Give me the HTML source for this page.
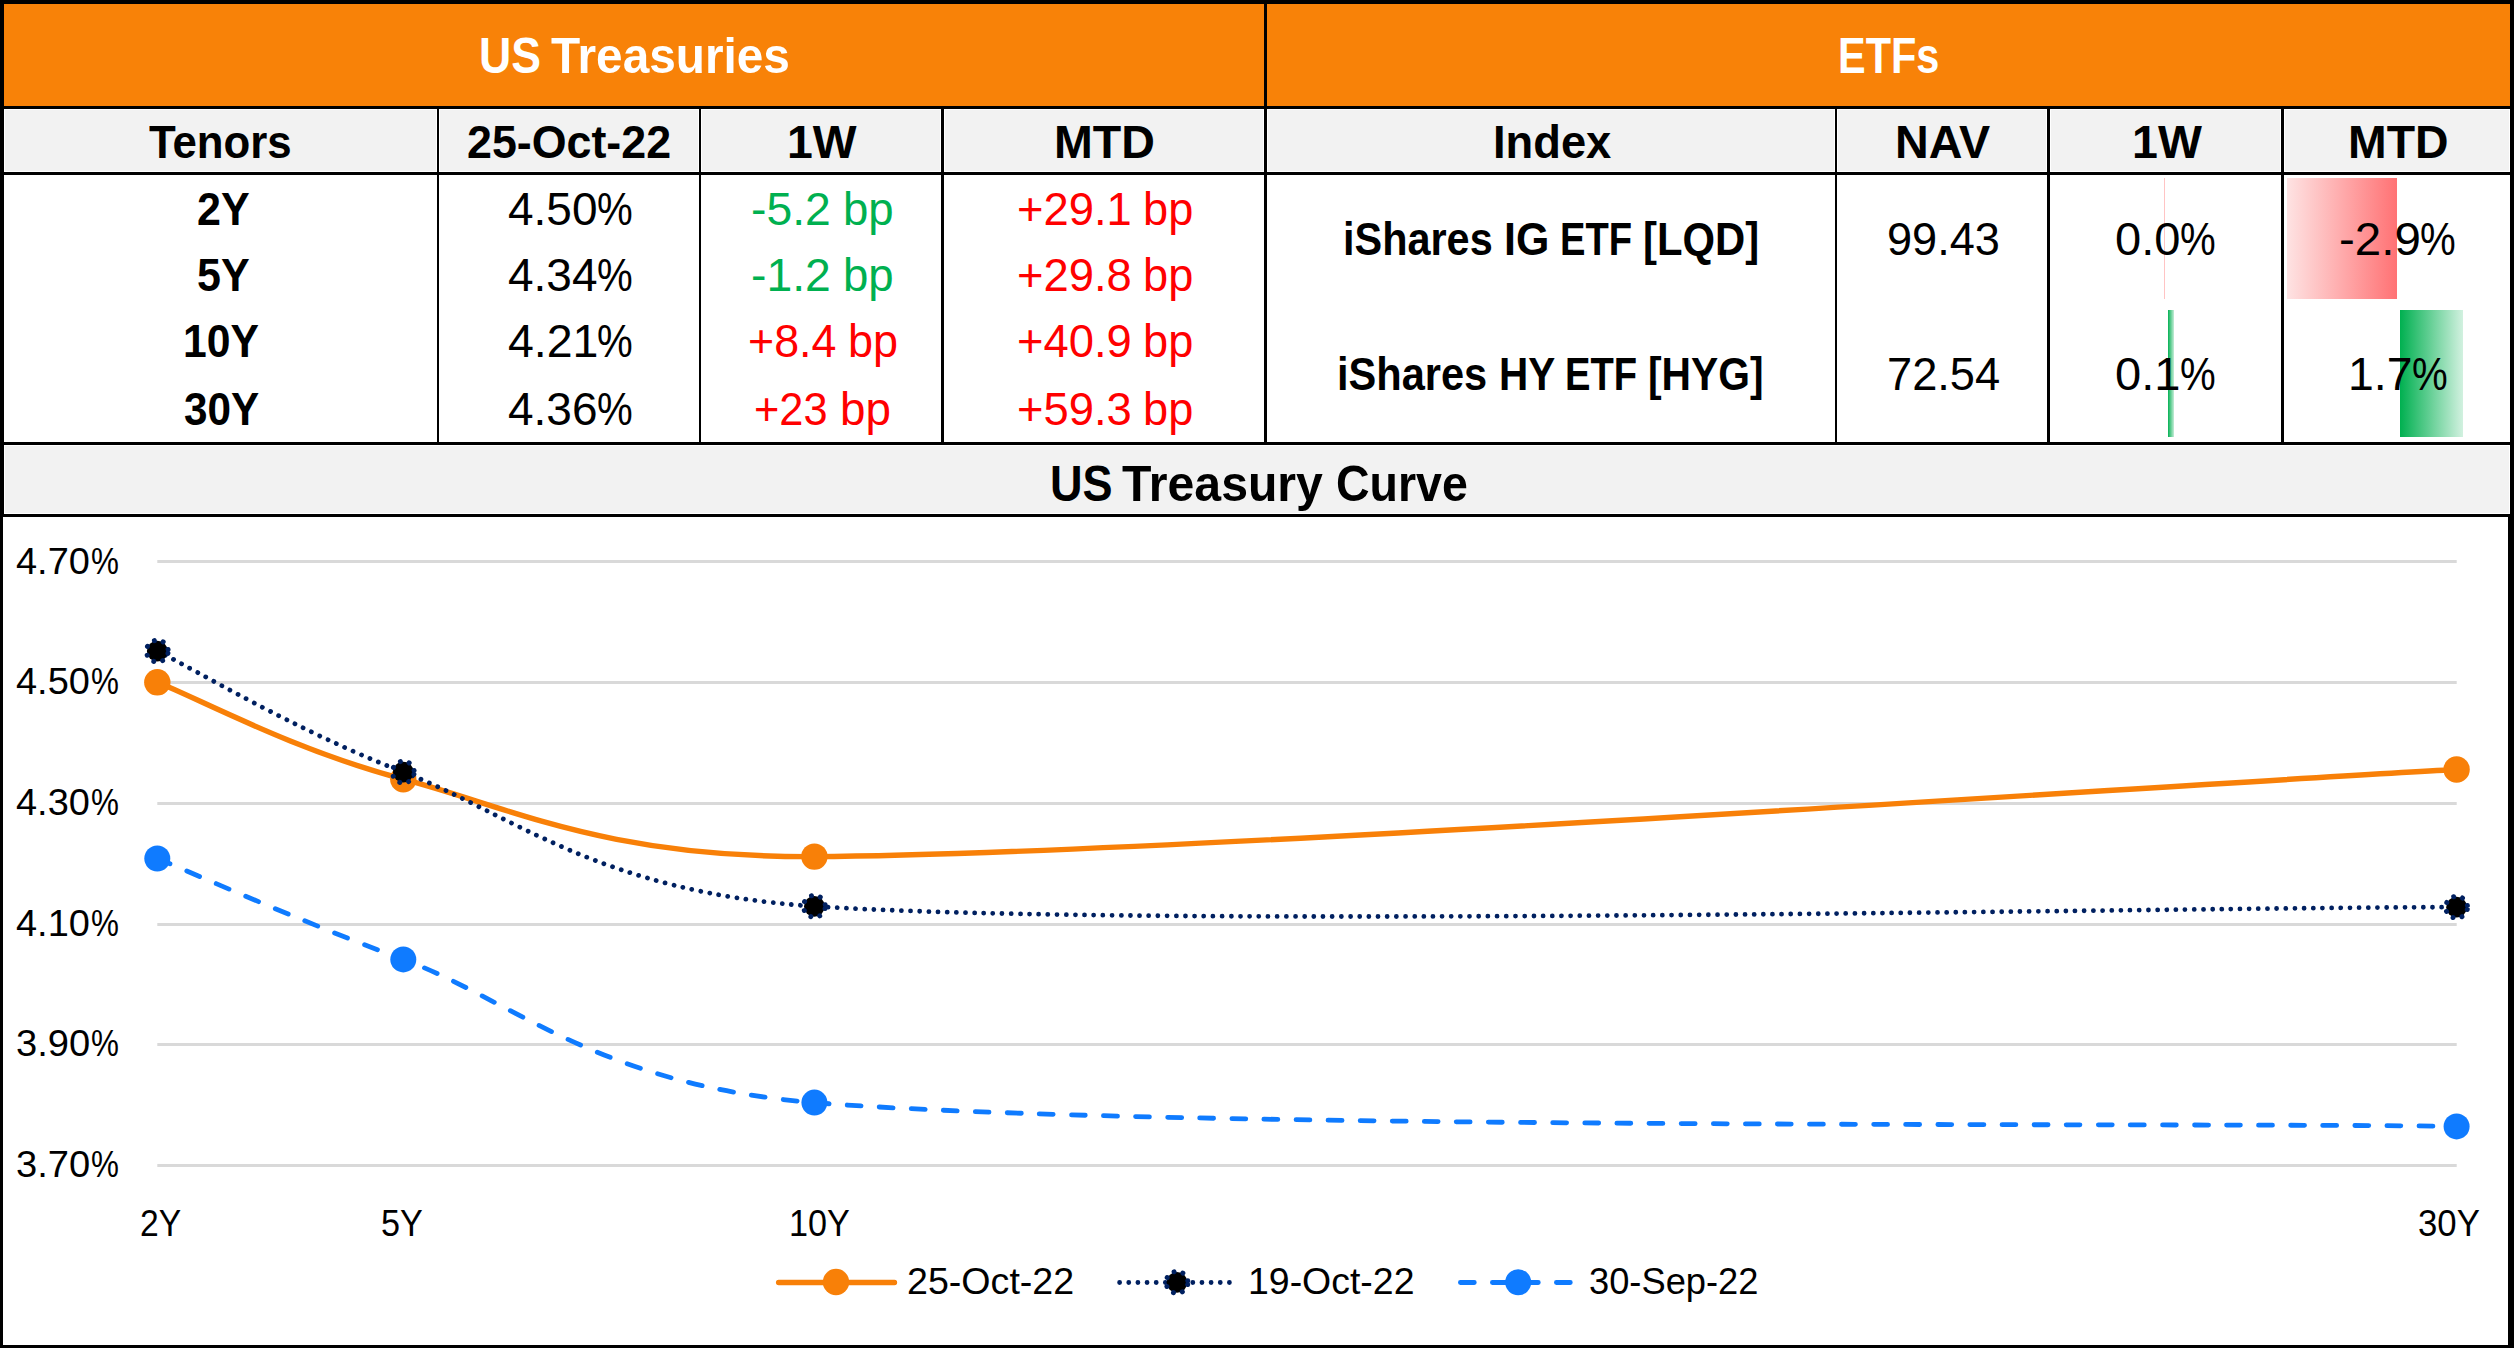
<!DOCTYPE html>
<html lang="en"><head><meta charset="utf-8"><title>US Treasuries and ETFs</title>
<style>
html,body{margin:0;padding:0;background:#fff}
body{width:2514px;height:1348px;position:relative;overflow:hidden;font-family:"Liberation Sans",sans-serif}
.r{position:absolute}
.chart{position:absolute;left:0;top:0}
.t{position:absolute;line-height:1;white-space:pre;transform-origin:0 0;font-weight:400}
</style></head>
<body>
<main>
<section aria-label="US Treasuries and ETFs table">
<div class="r" style="left:0px;top:0px;width:2514px;height:109px;background:#F88208"></div>
<div class="r" style="left:5px;top:110px;width:431px;height:61px;background:#F2F2F2"></div>
<div class="r" style="left:440px;top:110px;width:258px;height:61px;background:#F2F2F2"></div>
<div class="r" style="left:702px;top:110px;width:238px;height:61px;background:#F2F2F2"></div>
<div class="r" style="left:945px;top:110px;width:318px;height:61px;background:#F2F2F2"></div>
<div class="r" style="left:1268px;top:110px;width:566px;height:61px;background:#F2F2F2"></div>
<div class="r" style="left:1838px;top:110px;width:208px;height:61px;background:#F2F2F2"></div>
<div class="r" style="left:2051px;top:110px;width:229px;height:61px;background:#F2F2F2"></div>
<div class="r" style="left:2285px;top:110px;width:224px;height:61px;background:#F2F2F2"></div>
<div class="r" style="left:5px;top:446px;width:2504px;height:67px;background:#F2F2F2"></div>
<div class="r" style="left:2287px;top:178px;width:110px;height:121px;background:linear-gradient(90deg,#FEE3E3,#FF7274)"></div>
<div class="r" style="left:2400px;top:310px;width:63px;height:127px;background:linear-gradient(90deg,#00B050,#D2F1E0)"></div>
<div class="r" style="left:2164px;top:178px;width:1px;height:121px;background:#FFC4C4"></div>
<div class="r" style="left:2168px;top:310px;width:6px;height:127px;background:linear-gradient(90deg,#04B153,#C6EDD8)"></div>
<div class="r" style="left:0px;top:0px;width:2514px;height:4px;background:#000"></div>
<div class="r" style="left:0px;top:0px;width:4px;height:517px;background:#000"></div>
<div class="r" style="left:0px;top:517px;width:3px;height:831px;background:#000"></div>
<div class="r" style="left:2510px;top:0px;width:4px;height:517px;background:#000"></div>
<div class="r" style="left:2508px;top:517px;width:6px;height:831px;background:#000"></div>
<div class="r" style="left:0px;top:1345px;width:2514px;height:3px;background:#000"></div>
<div class="r" style="left:0px;top:106px;width:2514px;height:3px;background:#000"></div>
<div class="r" style="left:0px;top:172px;width:2514px;height:3px;background:#000"></div>
<div class="r" style="left:0px;top:442px;width:2514px;height:3px;background:#000"></div>
<div class="r" style="left:0px;top:514px;width:2514px;height:3px;background:#000"></div>
<div class="r" style="left:437px;top:109px;width:2px;height:336px;background:#000"></div>
<div class="r" style="left:699px;top:109px;width:2px;height:336px;background:#000"></div>
<div class="r" style="left:941px;top:109px;width:3px;height:336px;background:#000"></div>
<div class="r" style="left:1835px;top:109px;width:2px;height:336px;background:#000"></div>
<div class="r" style="left:2047px;top:109px;width:3px;height:336px;background:#000"></div>
<div class="r" style="left:2281px;top:109px;width:3px;height:336px;background:#000"></div>
<div class="r" style="left:1264px;top:4px;width:3px;height:441px;background:#000"></div>
<span class="t" style="left:478.5px;top:31px;font-size:50px;transform:scaleX(0.8922);color:#fff;font-weight:700">US</span> <span class="t" style="left:551.1px;top:31px;font-size:50px;transform:scaleX(0.9547);color:#fff;font-weight:700">Treasuries</span>
<span class="t" style="left:1837.8px;top:31px;font-size:50px;transform:scaleX(0.8299);color:#fff;font-weight:700">ETFs</span>
<span class="t" style="left:149.0px;top:119px;font-size:46px;transform:scaleX(0.9517);color:#000;font-weight:700">Tenors</span>
<span class="t" style="left:466.7px;top:119px;font-size:46px;transform:scaleX(0.9733);color:#000;font-weight:700">25-Oct-22</span>
<span class="t" style="left:786.8px;top:119px;font-size:46px;transform:scaleX(1.0091);color:#000;font-weight:700">1W</span>
<span class="t" style="left:1054.1px;top:119px;font-size:46px;transform:scaleX(1.0126);color:#000;font-weight:700">MTD</span>
<span class="t" style="left:1492.7px;top:119px;font-size:46px;transform:scaleX(0.9845);color:#000;font-weight:700">Index</span>
<span class="t" style="left:1894.8px;top:119px;font-size:46px;transform:scaleX(1.0144);color:#000;font-weight:700">NAV</span>
<span class="t" style="left:2131.9px;top:119px;font-size:46px;transform:scaleX(1.0121);color:#000;font-weight:700">1W</span>
<span class="t" style="left:2348.2px;top:119px;font-size:46px;transform:scaleX(1.0084);color:#000;font-weight:700">MTD</span>
<span class="t" style="left:196.5px;top:186px;font-size:46px;transform:scaleX(0.9358);color:#000;font-weight:700">2Y</span>
<span class="t" style="left:196.5px;top:252px;font-size:46px;transform:scaleX(0.9358);color:#000;font-weight:700">5Y</span>
<span class="t" style="left:182.9px;top:318px;font-size:46px;transform:scaleX(0.9282);color:#000;font-weight:700">10Y</span>
<span class="t" style="left:183.7px;top:386px;font-size:46px;transform:scaleX(0.9188);color:#000;font-weight:700">30Y</span>
<span class="t" style="left:507.9px;top:186px;font-size:46px;transform:scaleX(0.9989);color:#000">4.50</span><span class="t" style="left:597.1px;top:186px;font-size:46px;transform:scaleX(0.8730);color:#000">%</span>
<span class="t" style="left:507.9px;top:252px;font-size:46px;transform:scaleX(0.9989);color:#000">4.34</span><span class="t" style="left:597.1px;top:252px;font-size:46px;transform:scaleX(0.8730);color:#000">%</span>
<span class="t" style="left:507.9px;top:318px;font-size:46px;transform:scaleX(1.0105);color:#000">4.21</span><span class="t" style="left:597.1px;top:318px;font-size:46px;transform:scaleX(0.8730);color:#000">%</span>
<span class="t" style="left:507.9px;top:386px;font-size:46px;transform:scaleX(0.9989);color:#000">4.36</span><span class="t" style="left:597.1px;top:386px;font-size:46px;transform:scaleX(0.8730);color:#000">%</span>
<span class="t" style="left:750.6px;top:186px;font-size:46px;transform:scaleX(1.0067);color:#00B050">-5.2</span> <span class="t" style="left:842.5px;top:186px;font-size:46px;transform:scaleX(0.9913);color:#00B050">bp</span>
<span class="t" style="left:750.6px;top:252px;font-size:46px;transform:scaleX(1.0067);color:#00B050">-1.2</span> <span class="t" style="left:842.5px;top:252px;font-size:46px;transform:scaleX(0.9913);color:#00B050">bp</span>
<span class="t" style="left:747.8px;top:318px;font-size:46px;transform:scaleX(0.9739);color:#FF0000">+8.4</span> <span class="t" style="left:848.1px;top:318px;font-size:46px;transform:scaleX(0.9783);color:#FF0000">bp</span>
<span class="t" style="left:753.8px;top:386px;font-size:46px;transform:scaleX(0.9419);color:#FF0000">+23</span> <span class="t" style="left:839.6px;top:386px;font-size:46px;transform:scaleX(0.9957);color:#FF0000">bp</span>
<span class="t" style="left:1017.2px;top:186px;font-size:46px;transform:scaleX(0.9866);color:#FF0000">+29.1</span> <span class="t" style="left:1143.3px;top:186px;font-size:46px;transform:scaleX(0.9826);color:#FF0000">bp</span>
<span class="t" style="left:1017.2px;top:252px;font-size:46px;transform:scaleX(0.9866);color:#FF0000">+29.8</span> <span class="t" style="left:1143.3px;top:252px;font-size:46px;transform:scaleX(0.9826);color:#FF0000">bp</span>
<span class="t" style="left:1017.2px;top:318px;font-size:46px;transform:scaleX(0.9866);color:#FF0000">+40.9</span> <span class="t" style="left:1143.3px;top:318px;font-size:46px;transform:scaleX(0.9826);color:#FF0000">bp</span>
<span class="t" style="left:1017.2px;top:386px;font-size:46px;transform:scaleX(0.9866);color:#FF0000">+59.3</span> <span class="t" style="left:1143.3px;top:386px;font-size:46px;transform:scaleX(0.9826);color:#FF0000">bp</span>
<span class="t" style="left:1343.0px;top:216px;font-size:46px;transform:scaleX(0.9006);color:#000;font-weight:700">iShares</span> <span class="t" style="left:1504.4px;top:216px;font-size:46px;transform:scaleX(0.9326);color:#000;font-weight:700">IG</span> <span class="t" style="left:1559.7px;top:216px;font-size:46px;transform:scaleX(0.8293);color:#000;font-weight:700">ETF</span> <span class="t" style="left:1643.1px;top:216px;font-size:46px;transform:scaleX(0.9090);color:#000;font-weight:700">[LQD]</span>
<span class="t" style="left:1337.4px;top:351px;font-size:46px;transform:scaleX(0.9037);color:#000;font-weight:700">iShares</span> <span class="t" style="left:1498.6px;top:351px;font-size:46px;transform:scaleX(0.8800);color:#000;font-weight:700">HY</span> <span class="t" style="left:1564.8px;top:351px;font-size:46px;transform:scaleX(0.8293);color:#000;font-weight:700">ETF</span> <span class="t" style="left:1648.2px;top:351px;font-size:46px;transform:scaleX(0.8872);color:#000;font-weight:700">[HYG]</span>
<span class="t" style="left:1887.1px;top:216px;font-size:46px;transform:scaleX(0.9802);color:#000">99.43</span>
<span class="t" style="left:1887.1px;top:351px;font-size:46px;transform:scaleX(0.9830);color:#000">72.54</span>
<span class="t" style="left:2115.3px;top:216px;font-size:46px;transform:scaleX(1.0233);color:#000">0.0</span><span class="t" style="left:2180.0px;top:216px;font-size:46px;transform:scaleX(0.8730);color:#000">%</span>
<span class="t" style="left:2115.3px;top:351px;font-size:46px;transform:scaleX(1.0233);color:#000">0.1</span><span class="t" style="left:2180.0px;top:351px;font-size:46px;transform:scaleX(0.8730);color:#000">%</span>
<span class="t" style="left:2338.7px;top:216px;font-size:46px;transform:scaleX(1.0320);color:#000">-2.9</span><span class="t" style="left:2419.5px;top:216px;font-size:46px;transform:scaleX(0.8730);color:#000">%</span>
<span class="t" style="left:2347.8px;top:351px;font-size:46px;transform:scaleX(1.0086);color:#000">1.7</span><span class="t" style="left:2411.6px;top:351px;font-size:46px;transform:scaleX(0.8730);color:#000">%</span>
</section>
<section aria-label="US Treasury Curve chart">
<svg class="chart" width="2514" height="1348" viewBox="0 0 2514 1348">
<rect x="157.3" y="560" width="2299.4" height="3" fill="#D9D9D9"/>
<rect x="157.3" y="681" width="2299.4" height="3" fill="#D9D9D9"/>
<rect x="157.3" y="802" width="2299.4" height="3" fill="#D9D9D9"/>
<rect x="157.3" y="923" width="2299.4" height="3" fill="#D9D9D9"/>
<rect x="157.3" y="1043" width="2299.4" height="3" fill="#D9D9D9"/>
<rect x="157.3" y="1164" width="2299.4" height="3" fill="#D9D9D9"/>
<path d="M157.3 682.3 C198.3 698.4 293.8 750.2 403.3 779.2 C512.8 808.2 605.2 857.6 814.4 856.6 C1156.6 855.0 2182.9 784.0 2456.6 769.5" fill="none" stroke="#F88008" stroke-width="5.4" stroke-linecap="round"/>
<circle cx="157.3" cy="682.3" r="13.2" fill="#F88008"/>
<circle cx="403.3" cy="779.2" r="13.2" fill="#F88008"/>
<circle cx="814.4" cy="856.6" r="13.2" fill="#F88008"/>
<circle cx="2456.6" cy="769.5" r="13.2" fill="#F88008"/>
<path d="M157.3 651.1 C198.3 671.3 293.8 729.6 403.3 772.1 C512.8 814.6 598.6 892.1 814.4 906.3 C1156.6 928.8 2182.9 907.1 2456.6 907.2" fill="none" stroke="#002060" stroke-width="4.8" stroke-linecap="round" stroke-dasharray="0.01 9.158"/>
<circle cx="157.3" cy="651.1" r="10.4" fill="#000"/>
<circle cx="157.3" cy="651.1" r="10.9" fill="none" stroke="#002060" stroke-width="5" stroke-linecap="round" stroke-dasharray="0.01 9.14" stroke-dashoffset="-2.3"/>
<circle cx="403.3" cy="772.1" r="10.4" fill="#000"/>
<circle cx="403.3" cy="772.1" r="10.9" fill="none" stroke="#002060" stroke-width="5" stroke-linecap="round" stroke-dasharray="0.01 9.14" stroke-dashoffset="-2.3"/>
<circle cx="814.4" cy="906.3" r="10.4" fill="#000"/>
<circle cx="814.4" cy="906.3" r="10.9" fill="none" stroke="#002060" stroke-width="5" stroke-linecap="round" stroke-dasharray="0.01 9.14" stroke-dashoffset="-2.3"/>
<circle cx="2456.6" cy="907.2" r="10.4" fill="#000"/>
<circle cx="2456.6" cy="907.2" r="10.9" fill="none" stroke="#002060" stroke-width="5" stroke-linecap="round" stroke-dasharray="0.01 9.14" stroke-dashoffset="-2.3"/>
<path d="M157.3 858.5 C198.3 875.3 293.8 918.7 403.3 959.4 C512.8 1000.1 597.5 1085.0 814.4 1102.6 C1156.6 1130.4 2182.9 1122.4 2456.6 1126.4" fill="none" stroke="#0F7BFF" stroke-width="4.8" stroke-linecap="round" stroke-dasharray="13.9 18.18"/>
<circle cx="157.3" cy="858.5" r="13" fill="#0F7BFF"/>
<circle cx="403.3" cy="959.4" r="13" fill="#0F7BFF"/>
<circle cx="814.4" cy="1102.6" r="13" fill="#0F7BFF"/>
<circle cx="2456.6" cy="1126.4" r="13" fill="#0F7BFF"/>
<line x1="778.6" y1="1282.5" x2="894.5" y2="1282.5" stroke="#F88008" stroke-width="5.3" stroke-linecap="round"/>
<circle cx="836" cy="1282" r="13.2" fill="#F88008"/>
<line x1="1119.6" y1="1282.5" x2="1231" y2="1282.5" stroke="#002060" stroke-width="4.8" stroke-linecap="round" stroke-dasharray="0.01 9.14"/>
<circle cx="1177" cy="1282.3" r="10.4" fill="#000"/>
<circle cx="1177" cy="1282.3" r="10.9" fill="none" stroke="#002060" stroke-width="5" stroke-linecap="round" stroke-dasharray="0.01 9.14" stroke-dashoffset="-2.3"/>
<line x1="1460.4" y1="1282.5" x2="1574" y2="1282.5" stroke="#0F7BFF" stroke-width="4.8" stroke-linecap="round" stroke-dasharray="13.9 18.1"/>
<circle cx="1518.2" cy="1282.3" r="13" fill="#0F7BFF"/>
</svg>
<span class="t" style="left:1049.6px;top:459px;font-size:50px;transform:scaleX(0.9016);color:#000;font-weight:700">US</span> <span class="t" style="left:1122.3px;top:459px;font-size:50px;transform:scaleX(0.9638);color:#000;font-weight:700">Treasury</span> <span class="t" style="left:1336.1px;top:459px;font-size:50px;transform:scaleX(0.9304);color:#000;font-weight:700">Curve</span>
<span class="t" style="left:16.4px;top:543px;font-size:37px;transform:scaleX(1.0257);color:#000">4.70</span><span class="t" style="left:90.8px;top:543px;font-size:37px;transform:scaleX(0.8484);color:#000">%</span>
<span class="t" style="left:16.4px;top:663px;font-size:37px;transform:scaleX(1.0257);color:#000">4.50</span><span class="t" style="left:90.8px;top:663px;font-size:37px;transform:scaleX(0.8484);color:#000">%</span>
<span class="t" style="left:16.4px;top:784px;font-size:37px;transform:scaleX(1.0257);color:#000">4.30</span><span class="t" style="left:90.8px;top:784px;font-size:37px;transform:scaleX(0.8484);color:#000">%</span>
<span class="t" style="left:16.4px;top:905px;font-size:37px;transform:scaleX(1.0257);color:#000">4.10</span><span class="t" style="left:90.8px;top:905px;font-size:37px;transform:scaleX(0.8484);color:#000">%</span>
<span class="t" style="left:16.0px;top:1025px;font-size:37px;transform:scaleX(1.0304);color:#000">3.90</span><span class="t" style="left:90.8px;top:1025px;font-size:37px;transform:scaleX(0.8484);color:#000">%</span>
<span class="t" style="left:16.0px;top:1146px;font-size:37px;transform:scaleX(1.0304);color:#000">3.70</span><span class="t" style="left:90.8px;top:1146px;font-size:37px;transform:scaleX(0.8484);color:#000">%</span>
<span class="t" style="left:139.6px;top:1205px;font-size:37px;transform:scaleX(0.9095);color:#000">2Y</span>
<span class="t" style="left:381.4px;top:1205px;font-size:37px;transform:scaleX(0.9238);color:#000">5Y</span>
<span class="t" style="left:789.3px;top:1205px;font-size:37px;transform:scaleX(0.9242);color:#000">10Y</span>
<span class="t" style="left:2417.6px;top:1205px;font-size:37px;transform:scaleX(0.9397);color:#000">30Y</span>
<span class="t" style="left:906.8px;top:1263px;font-size:37px;transform:scaleX(1.0161);color:#000">25-Oct-22</span>
<span class="t" style="left:1248.2px;top:1263px;font-size:37px;transform:scaleX(1.0119);color:#000">19-Oct-22</span>
<span class="t" style="left:1588.8px;top:1263px;font-size:37px;transform:scaleX(0.9805);color:#000">30-Sep-22</span>
</section>
</main>
</body></html>
